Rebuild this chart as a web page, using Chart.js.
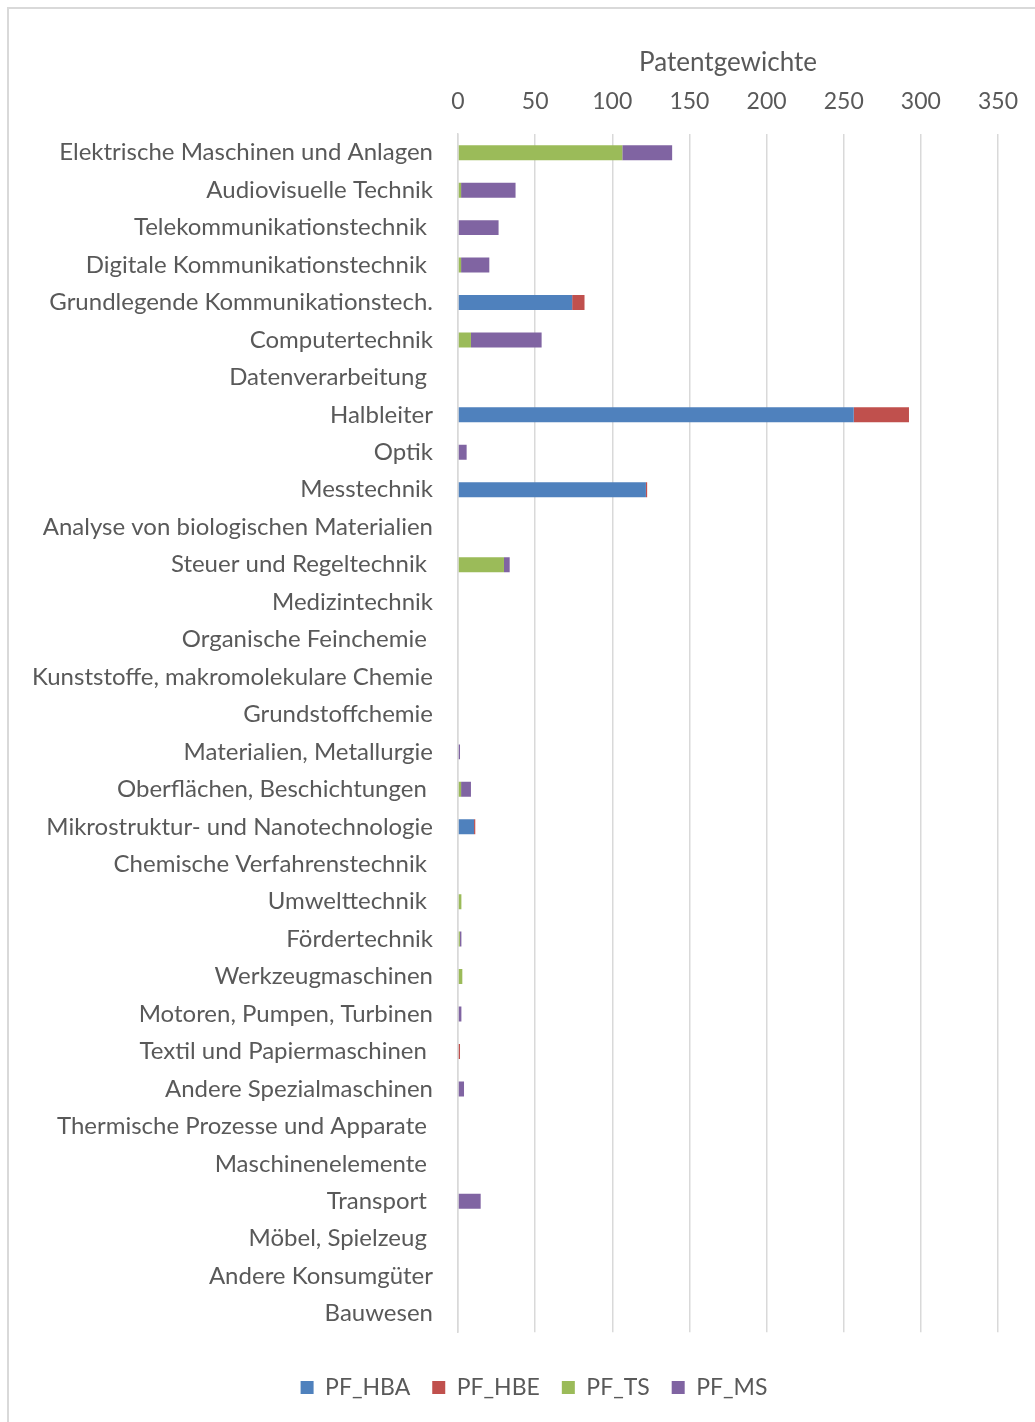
<!DOCTYPE html>
<html>
<head>
<meta charset="utf-8">
<script src="https://cdn.jsdelivr.net/npm/chart.js@4.4.1/dist/chart.umd.min.js"></script>
<style>
    html, body { margin: 0; padding: 0; background: #fff; overflow: hidden; width: 1035px; height: 1422px; }
    .frame { position: absolute; left: 7px; top: 7px; width: 1200px; height: 1600px; border-left: 2px solid #d9d9d9; border-top: 2px solid #d9d9d9; }
    .wrap { position: absolute; left: 0; top: 0; width: 1068px; height: 1442px; }
</style>
</head>
<body>
<div class="frame"></div>
<div class="wrap"><canvas id="chartPatents"></canvas></div>
<script>
// Kategorien (nachgestellte Leerzeichen wie im Original)
const categories = [
    "Elektrische Maschinen und Anlagen",
    "Audiovisuelle Technik",
    "Telekommunikationstechnik ",
    "Digitale Kommunikationstechnik ",
    "Grundlegende Kommunikationstech.",
    "Computertechnik",
    "Datenverarbeitung ",
    "Halbleiter",
    "Optik",
    "Messtechnik",
    "Analyse von biologischen Materialien",
    "Steuer und Regeltechnik ",
    "Medizintechnik",
    "Organische Feinchemie ",
    "Kunststoffe, makromolekulare Chemie",
    "Grundstoffchemie",
    "Materialien, Metallurgie",
    "Oberflächen, Beschichtungen ",
    "Mikrostruktur- und Nanotechnologie",
    "Chemische Verfahrenstechnik ",
    "Umwelttechnik ",
    "Fördertechnik",
    "Werkzeugmaschinen",
    "Motoren, Pumpen, Turbinen",
    "Textil und Papiermaschinen ",
    "Andere Spezialmaschinen",
    "Thermische Prozesse und Apparate ",
    "Maschinenelemente ",
    "Transport ",
    "Möbel, Spielzeug ",
    "Andere Konsumgüter",
    "Bauwesen"
];

const pfHBA = [0, 0, 0, 0, 74, 0, 0, 256.5, 0, 121.8, 0, 0, 0, 0, 0, 0, 0, 0, 10.4, 0, 0, 0, 0, 0, 0, 0, 0, 0, 0, 0, 0, 0];
const pfHBE = [0, 0, 0, 0, 8, 0, 0, 35.8, 0, 0.8, 0, 0, 0, 0, 0, 0, 0, 0, 0.8, 0, 0, 0, 0, 0, 1.3, 0, 0, 0, 0, 0, 0, 0];
const pfTS  = [106.5, 2, 0, 2, 0, 8.4, 0, 0, 0, 0, 0, 29.8, 0, 0, 0, 0, 0, 2, 0, 0, 2.2, 1.2, 2.8, 0, 0, 0, 0, 0, 0, 0, 0, 0];
const pfMS  = [32.3, 35.3, 26.3, 18.3, 0, 45.8, 0, 0, 5.6, 0, 0, 3.7, 0, 0, 0, 0, 1.3, 6.4, 0, 0, 0, 1.0, 0, 2.2, 0, 3.9, 0, 0, 14.7, 0, 0, 0];

const xTicks = [0, 50, 100, 150, 200, 250, 300, 350];

const textColor = "#595959";
const fontFamily = "Lato, 'Open Sans', sans-serif";

// Legende etwas nach rechts schieben (wie im Original zentriert)
const legendShift = {
    id: 'legendShift',
    afterLayout(chart) {
        chart.legend.left += 70;
    }
};

const ctx = document.getElementById('chartPatents');
const chartPatents = new Chart(ctx, {
    type: 'bar',
    data: {
        labels: categories,
        datasets: [
            { label: 'PF_HBA', data: pfHBA, backgroundColor: '#4F81BD' },
            { label: 'PF_HBE', data: pfHBE, backgroundColor: '#C0504D' },
            { label: 'PF_TS',  data: pfTS,  backgroundColor: '#9BBB59' },
            { label: 'PF_MS',  data: pfMS,  backgroundColor: '#8064A2' }
        ]
    },
    plugins: [legendShift],
    options: {
        indexAxis: 'y',
        responsive: true,
        maintainAspectRatio: false,
        animation: false,
        datasets: {
            bar: { categoryPercentage: 1, barPercentage: 0.4 }
        },
        layout: { padding: { left: 0, right: 70, top: 0, bottom: 33 } },
        plugins: {
            tooltip: { enabled: false },
            legend: {
                position: 'bottom',
                title: { display: true, text: '', padding: { top: 0, bottom: 20.5 }, font: { size: 1 } },
                labels: {
                    color: textColor,
                    boxWidth: 13,
                    boxHeight: 13,
                    padding: 22,
                    font: { family: fontFamily, size: 23 }
                }
            }
        },
        scales: {
            x: {
                position: 'top',
                stacked: true,
                min: 0,
                max: 350,
                afterBuildTicks: (scale) => { scale.ticks = xTicks.map(v => ({ value: v })); },
                afterFit: (scale) => { scale.height = 134; },
                title: {
                    display: true,
                    text: 'Patentgewichte',
                    color: textColor,
                    font: { family: fontFamily, size: 26 },
                    padding: { top: 47, bottom: 0 }
                },
                ticks: {
                    color: textColor,
                    font: { family: fontFamily, size: 23 },
                    padding: 19
                },
                grid: { color: '#d9d9d9', lineWidth: 1.5, drawTicks: false },
                border: { display: false }
            },
            y: {
                stacked: true,
                afterFit: (scale) => { scale.width = 458; },
                ticks: {
                    color: textColor,
                    font: { family: fontFamily, size: 24 },
                    padding: 25,
                    autoSkip: false
                },
                grid: { display: false, drawTicks: false },
                border: { display: true, color: '#d9d9d9', width: 1.5 }
            }
        }
    }
});
</script>
</body>
</html>
